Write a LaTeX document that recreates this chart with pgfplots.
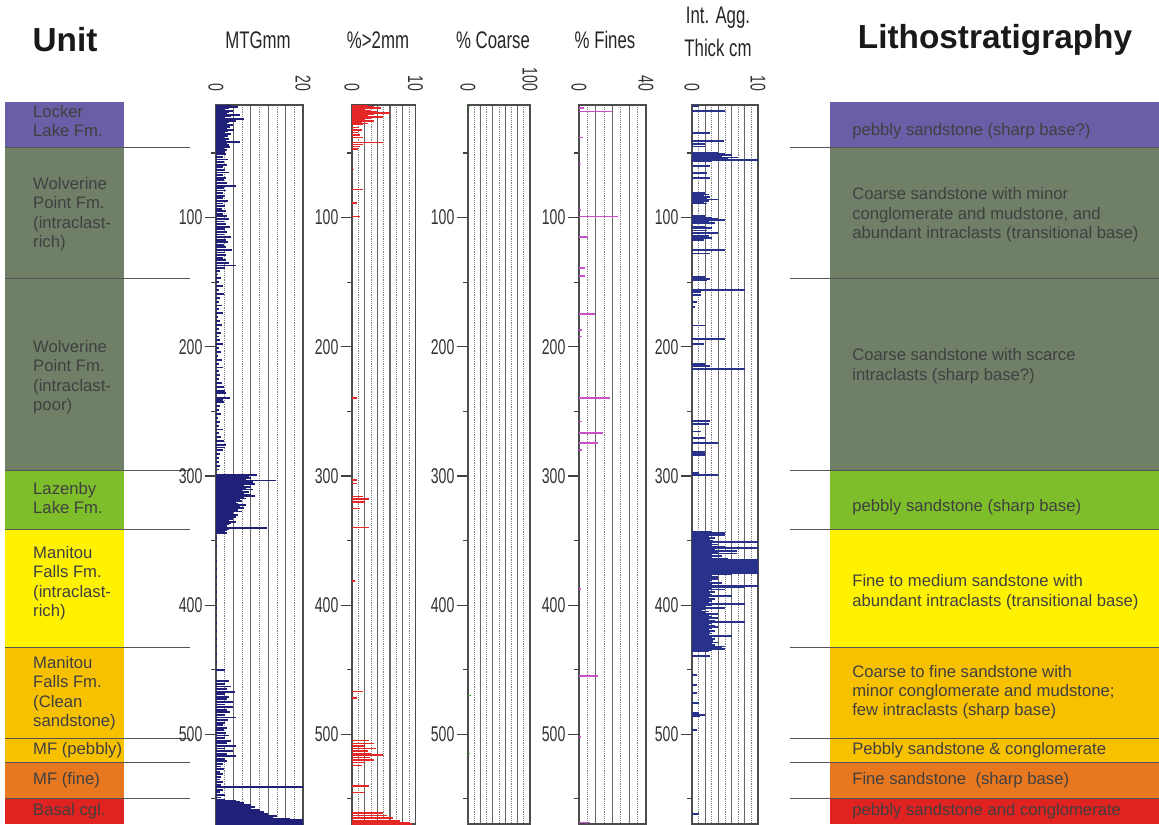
\documentclass[border=0pt]{standalone}
\usepackage{pgfplots}
\pgfplotsset{compat=1.18}
\usepackage{fontspec}
\setmainfont{Liberation Sans}
\newfontfamily\narrow[FakeStretch=0.66]{Liberation Sans}
\newfontfamily\titlenarrow[FakeStretch=0.7]{Liberation Sans}

\definecolor{lockercol}{RGB}{106,94,166}
\definecolor{wolvcol}{RGB}{112,128,104}
\definecolor{lazcol}{RGB}{125,190,42}
\definecolor{manrich}{RGB}{255,242,0}
\definecolor{manclean}{RGB}{247,193,0}
\definecolor{mffine}{RGB}{232,120,32}
\definecolor{basalcol}{RGB}{224,34,32}
\definecolor{sepcol}{RGB}{85,85,85}
\definecolor{mtgcol}{RGB}{32,32,120}
\definecolor{iacol}{RGB}{40,50,140}
\definecolor{gravcol}{RGB}{228,40,40}
\definecolor{coarsecol}{RGB}{60,170,60}
\definecolor{finescol}{RGB}{200,80,200}
\definecolor{boxtext}{RGB}{64,64,64}

\tikzset{
  sep/.style={draw=sepcol, line width=0.6pt},
  utext/.style={anchor=west, align=left, inner sep=0pt, text=boxtext,
    font=\fontsize{12.5}{14.5}\selectfont},
  ptitle/.style={font=\titlenarrow\fontsize{18}{18}\selectfont, text=black!85},
}

\begin{document}
\begin{tikzpicture}
\pgfplotsset{
  strip/.style={
    scale only axis, anchor=north west,
    height=539.25pt,
    y dir=reverse, ymin=12.78, ymax=569.5, xmin=0,
    ytick={100,200,300,400,500}, minor ytick={50,150,250,350,450,550},
    ytick pos=left, tick align=outside,
    major tick length=8.5pt, minor tick length=4pt,
    xticklabel pos=upper, xtick style={draw=none},
    ytick style={draw=black!75, line width=0.9pt},
    minor tick style={draw=black!75, line width=0.9pt},
    xmajorgrids, xminorgrids, minor x tick num=1,
    major grid style={draw=black!60, line width=0.9pt},
    minor grid style={draw=black!50, densely dotted, line width=0.6pt},
    axis line style={draw=black!70, line width=1pt},
    /pgf/number format/assume math mode=true,
    yticklabel style={font=\narrow\fontsize{16}{16}\selectfont, text=black!80, inner sep=1.5pt},
    xticklabel style={font=\narrow\fontsize{16}{16}\selectfont, text=black!80, rotate=-90, anchor=east, inner sep=1.5pt},
  },
  comb/.style={xcomb, line width=1.1pt},
  col/.style={
    scale only axis, anchor=north west, height=541.5pt,
    xmin=0, xmax=1, ymin=10.45, ymax=569.5, y dir=reverse,
    hide axis, clip=false,
  },
}

% titles
\begin{scope}[x=0.75pt, y=-0.75pt]
  \node[font=\bfseries\fontsize{25}{25}\selectfont, text=black!90] at (65,40) {Unit};
  \node[font=\bfseries\fontsize{25}{25}\selectfont, text=black!90] at (995,40) {Lithostratigraphy};
  \node[ptitle] at (258,40) {MTGmm};
  \node[ptitle] at (378,40) {\%>2mm};
  \node[ptitle] at (493,40) {\% Coarse};
  \node[ptitle] at (605,40) {\% Fines};
  \node[ptitle] at (718,18) {Int. Agg.};
  \node[ptitle] at (718,48) {Thick cm};
\end{scope}

% unit column
\begin{axis}[col, at={(3.75pt,-76.5pt)}, width=89.25pt]
  \fill[lockercol] (axis cs:0,10.45) rectangle (axis cs:1,45.3);
  \fill[wolvcol] (axis cs:0,45.3) rectangle (axis cs:1,295.4);
  \fill[lazcol] (axis cs:0,295.4) rectangle (axis cs:1,341.1);
  \fill[manrich] (axis cs:0,341.1) rectangle (axis cs:1,432.4);
  \fill[manclean] (axis cs:0,432.4) rectangle (axis cs:1,521.5);
  \fill[mffine] (axis cs:0,521.5) rectangle (axis cs:1,549.4);
  \fill[basalcol] (axis cs:0,549.4) rectangle (axis cs:1,569.5);
  \draw[sep] (axis cs:0,45.3) -- (axis cs:1.555,45.3);
  \draw[sep] (axis cs:0,146.7) -- (axis cs:1.555,146.7);
  \draw[sep] (axis cs:0,295.4) -- (axis cs:1.555,295.4);
  \draw[sep] (axis cs:0,341.1) -- (axis cs:1.555,341.1);
  \draw[sep] (axis cs:0,432.4) -- (axis cs:1.555,432.4);
  \draw[sep] (axis cs:0,502.9) -- (axis cs:1.555,502.9);
  \draw[sep] (axis cs:0,521.5) -- (axis cs:1.555,521.5);
  \draw[sep] (axis cs:0,549.4) -- (axis cs:1.555,549.4);
  \node[utext] at (axis cs:0.235,25.2) {Locker\\Lake Fm.};
  \node[utext] at (axis cs:0.235,97.2) {Wolverine\\Point Fm.\\(intraclast-\\rich)};
  \node[utext] at (axis cs:0.235,223.4) {Wolverine\\Point Fm.\\(intraclast-\\poor)};
  \node[utext] at (axis cs:0.235,317.1) {Lazenby\\Lake Fm.};
  \node[utext] at (axis cs:0.235,382.9) {Manitou\\Falls Fm.\\(intraclast-\\rich)};
  \node[utext] at (axis cs:0.235,468.1) {Manitou\\Falls Fm.\\(Clean\\sandstone)};
  \node[utext] at (axis cs:0.235,512.2) {MF (pebbly)};
  \node[utext] at (axis cs:0.235,535.4) {MF (fine)};
  \node[utext] at (axis cs:0.235,559.4) {Basal cgl.};
\end{axis}

% lithostratigraphy column
\begin{axis}[col, at={(622.5pt,-76.5pt)}, width=246.75pt]
  \fill[lockercol] (axis cs:0,10.45) rectangle (axis cs:1,45.3);
  \fill[wolvcol] (axis cs:0,45.3) rectangle (axis cs:1,295.4);
  \fill[lazcol] (axis cs:0,295.4) rectangle (axis cs:1,341.1);
  \fill[manrich] (axis cs:0,341.1) rectangle (axis cs:1,432.4);
  \fill[manclean] (axis cs:0,432.4) rectangle (axis cs:1,521.5);
  \fill[mffine] (axis cs:0,521.5) rectangle (axis cs:1,549.4);
  \fill[basalcol] (axis cs:0,549.4) rectangle (axis cs:1,569.5);
  \draw[sep] (axis cs:-0.1216,45.3) -- (axis cs:1,45.3);
  \draw[sep] (axis cs:-0.1216,146.7) -- (axis cs:1,146.7);
  \draw[sep] (axis cs:-0.1216,295.4) -- (axis cs:1,295.4);
  \draw[sep] (axis cs:-0.1216,341.1) -- (axis cs:1,341.1);
  \draw[sep] (axis cs:-0.1216,432.4) -- (axis cs:1,432.4);
  \draw[sep] (axis cs:-0.1216,502.9) -- (axis cs:1,502.9);
  \draw[sep] (axis cs:-0.1216,521.5) -- (axis cs:1,521.5);
  \draw[sep] (axis cs:-0.1216,549.4) -- (axis cs:1,549.4);
  \node[utext] at (axis cs:0.067,32.9) {pebbly sandstone (sharp base?)};
  \node[utext] at (axis cs:0.067,97.9) {Coarse sandstone with minor\\conglomerate and mudstone, and\\abundant intraclasts (transitional base)};
  \node[utext] at (axis cs:0.067,214.9) {Coarse sandstone with scarce\\intraclasts (sharp base?)};
  \node[utext] at (axis cs:0.067,324.1) {pebbly sandstone (sharp base)};
  \node[utext] at (axis cs:0.067,389.9) {Fine to medium sandstone with\\abundant intraclasts (transitional base)};
  \node[utext] at (axis cs:0.067,467.5) {Coarse to fine sandstone with\\minor conglomerate and mudstone;\\few intraclasts (sharp base)};
  \node[utext] at (axis cs:0.067,512.2) {Pebbly sandstone \& conglomerate};
  \node[utext] at (axis cs:0.067,535.4) {Fine sandstone\ \ (sharp base)};
  \node[utext] at (axis cs:0.067,559.4) {pebbly sandstone and conglomerate};
\end{axis}

% MTGmm
\begin{axis}[strip, at={(162pt,-78.75pt)}, width=65.25pt, xmax=20,
  xtick={0,4,8,12,16,20}, xticklabels={0,,,,,20}]
\addplot[comb, mtgcol, line width=1.4pt] coordinates {
(3.5,13.5)(5.0,14.5)(3.0,15.5)(2.0,16.5)(4.0,17.5)(3.0,18.5)(2.5,19.5)(5.5,20.5)(3.5,21.5)(2.0,22.5)(6.4,23.8)(4.5,25)(3.0,26)(2.5,27)(3.8,28)(2.0,29)(3.2,30)(2.5,31)(4.2,32)(2.8,33)(2.0,34)(3.5,35)(2.2,36)(2.8,37)(1.8,38)(3.0,39)(2.2,40)(5.6,41.5)(2.5,42.5)(3.0,43.5)(2.0,44.5)(3.2,45.5)(1.8,46.5)(2.5,47.5)(1.5,48.5)(2.0,49.5)
(2.2,51)(1.5,53)(2.8,55)(1.8,57)(2.5,59)(1.5,61)(2.0,63)(3.0,65)(1.6,67)(2.2,69)(1.8,71)(2.5,73)(4.5,75.8)(1.8,77)(2.4,79)(1.5,81)(2.0,83)(1.7,85)(2.8,87)(1.5,89)(2.0,91)(1.4,93)(2.2,95)(1.6,97)(2.5,99)(3.0,101)(1.8,103)(2.4,105)(3.2,107)(2.0,109)(2.6,111)(1.8,113)(3.5,115)(2.2,117)(2.8,119)(1.8,121)(2.4,123)(3.6,125)(2.0,127)(2.4,129)(1.6,131)(2.2,133)(3.0,135)(4.5,137)(2.0,139)
(1.0,141)(0.5,144)(1.2,147)(0.6,150)(1.5,153)(0.8,156)(1.8,159)(1.0,162)(0.6,165)(1.4,168)(0.8,171)(1.6,174)(0.5,177)(1.0,180)(1.4,183)(0.8,186)(1.2,189)(0.6,192)(1.0,195)(1.6,198)(0.7,201)(1.2,204)(0.5,207)(1.3,210)(0.8,213)(1.5,216)(0.6,219)(1.0,222)(0.8,225)(1.4,228)(1.8,231)(2.0,234)(2.2,236)(3.3,239.5)(1.5,241)(1.8,243)(1.0,246)(0.8,249)(1.2,252)(0.5,255)(1.0,258)(0.8,261)(1.5,264)(0.6,267)(1.2,270)(1.8,273)(2.2,276)(2.0,278)(1.5,280)(1.0,283)(0.8,286)(0.6,289)(1.0,292)(0.8,295)
(9.5,299.5)(7.5,300.5)(8.0,301.5)(7.0,302.5)(13.7,303.5)(8.5,304.5)(7.5,305.5)(9.0,306.5)(6.5,307.5)(8.0,308.5)(7.0,309.5)(8.5,310.5)(6.0,311.5)(7.5,312.5)(6.5,313.5)(8.0,314.5)(9.0,315.5)(6.5,316.5)(7.0,317.5)(5.5,318.5)(6.0,319.5)(4.5,320.5)(5.0,321.5)(7.0,322.5)(5.5,323.5)(6.5,324.5)(4.5,325.5)(5.0,326.5)(6.0,327.5)(4.0,328.5)(3.5,329.5)(5.0,330.5)(4.5,331.5)(3.5,332.5)(4.0,333.5)(3.0,334.5)(4.5,335.5)(3.5,336.5)(3.0,337.5)(2.5,338.5)(11.8,340)(3.0,341)(2.5,342)(2.0,343)(2.5,344)
(0.3,348)(0.3,354)(0.3,360)(0.3,366)(0.3,372)(0.3,378)(0.3,384)(0.3,390)(0.3,396)(0.3,402)(0.3,408)(0.3,414)(0.3,420)(0.3,426)(0.3,432)(0.3,438)(0.3,444)(2.1,450)
(3.0,459)(2.0,461)(3.5,463)(2.5,465)(4.3,467)(2.0,469)(3.0,471)(2.5,473)(3.8,475)(2.0,477)(4.0,479)(2.5,481)(3.2,483)(2.0,485)(4.5,487)(2.8,489)(2.0,491)(1.5,493)(2.5,495)(1.8,497)(2.2,499)(3.0,501)(2.0,503)(3.5,505)(2.5,507)(4.5,509)(2.0,511)(3.8,513)(2.5,515)(4.5,517)(2.0,519)(2.5,521)
(1.5,523)(1.2,525)(1.8,527)(1.0,529)(1.5,531)(1.2,533)(1.0,535)(1.6,537)(1.2,539)(22,541)(1.5,543)(1.0,545)(2.0,547)(1.2,549)(2.0,550.5)
(4.5,551.5)(5.5,552.5)(6.5,553.5)(8.0,554.5)(7.0,555.5)(9.0,556.5)(8.0,557.5)(10.0,558.5)(9.0,559.5)(11.0,560.5)(12.0,561.5)(11.0,562.5)(14,563.5)(13,564.5)(17,565.5)(20,566.5)(22,567.5)(22,568.5)(22,569.5)
};
\end{axis}

% % > 2 mm
\begin{axis}[strip, at={(264pt,-78.75pt)}, width=47.6pt, xmax=10,
  xtick={0,2,4,6,8,10}, xticklabels={0,,,,,10}]
\addplot[comb, gravcol] coordinates {
(2.5,13)(3.5,14)(4.5,15)(2.0,16)(3.0,17)(4.0,18)(6.0,19)(3.5,20)(2.5,21)(4.9,22)(3.0,23)(2.0,24)(3.5,25)(1.5,26)(2.5,27)(1.8,28)(1.0,30)(1.5,32)(0.9,34)(1.2,36)(1.7,38)(4.9,42)(1.7,43.5)(1.3,45)(0.9,47)(0.3,62.8)(1.7,78.4)(0.8,88.8)(1.3,99)(0.8,239.5)
(0.8,303)(0.8,306)(1.7,316)(2.7,318)(2.0,320)(1.2,325)(2.7,340)(0.5,381.3)(1.7,467)(0.8,472)
(2.7,505)(3.5,507)(2.0,509)(3.8,511)(2.5,513)(3.0,515)(4.9,516)(2.8,518)(3.5,520)(2.0,522)(1.5,524)(2.7,540)(2.0,545)
(4.9,561)(5.5,563)(6.5,565)(7.5,567)(9.1,568.5)(9.5,569.5)
};
\end{axis}

% % Coarse
\begin{axis}[strip, at={(351pt,-78.75pt)}, width=46.5pt, xmax=100,
  xtick={0,20,40,60,80,100}, xticklabels={0,,,,,100}]
\addplot[comb, coarsecol] coordinates {
(3,14)(2,20)(5,470)(3,515)(2,566)
};
\end{axis}

% % Fines
\begin{axis}[strip, at={(434.25pt,-78.75pt)}, width=50.25pt, xmax=40,
  xtick={0,10,20,30,40}, xticklabels={0,,,,40}]
\addplot[comb, finescol] coordinates {
(3,15)(19.5,18)(2.6,38)(1,58.9)(1,94)(23.5,99)(5.5,114.8)(3.5,139)(3.5,145)(9.6,174.5)(1.5,187)(2,192)(18.5,239.5)(2,257.7)(14.5,266.8)(11.5,274.6)(2,279.8)
(1,387.6)(11.5,455)(1,502)(6.6,568.5)
};
\end{axis}

% Int. Agg. Thick cm
\begin{axis}[strip, at={(519pt,-78.75pt)}, width=49.5pt, xmax=10,
  xtick={0,2,4,6,8,10}, xticklabels={0,,,,,10}]
\addplot[comb, iacol, line width=1.3pt] coordinates {
(1.0,13.5)(5.0,17.4)(2.8,34.2)(4.8,40.7)(2.0,43)(2.0,45)(4.0,49.5)(5.0,50.5)(6.0,51.5)(4.5,52.5)(7.0,53.5)(5.5,54.5)(10.5,55.5)(3.0,56.5)(2.8,60)(2.3,65.4)(2.8,69.3)(2.0,81)(2.5,82)(1.8,83)(2.8,84)(2.2,85)(4.0,86)(2.5,87)(1.8,88)(2.2,89)(2.0,99)(3.0,100)(4.0,101)(5.0,102)(2.5,103)(3.5,104)(2.0,107)(3.0,108)(2.2,110)(4.0,112)(2.5,114)(3.0,116)(1.8,117.4)(5.0,125.2)(2.8,127.8)(2.0,146)(2.8,147.5)(2.2,148.6)(8.1,156.3)(1.3,157.6)(1.3,160)(0.8,165.4)(0.5,169.3)(2.0,183.6)(5.0,194)(1.8,197.9)(2.0,213.5)(2.8,215)(8.1,217.4)(2.8,257.7)(2.5,260)(1.3,265.5)(2.0,270.7)(4.0,274.6)(2.0,281)(2.0,282)(2.0,283.6)(1.0,297.5)(4.0,299)
(3.0,343)(5.0,344)(3.0,345)(5.0,346)(2.5,347)(3.5,348)(2.8,349)(3.2,350)(10.5,351)(3.0,352)(4.0,353)(3.0,354)(5.0,355)(10.5,356)(3.5,357)(6.8,358)(4.0,359)(6.8,360)(3.0,361)(4.5,362)(3.0,363)(5.5,364)(10.5,365)(10.5,366)(10.5,367)(10.5,368)(10.5,369)(10.5,370)(10.5,371)(10.5,372)(10.5,373)(10.5,374)(10.5,375)(6.0,376)(3.0,377)(4.0,378)(2.5,379)(4.0,380)(3.0,381)(2.8,382)(4.5,383)(3.0,384)(10.5,385)(8.0,386)(3.0,387)(5.0,388)(2.5,389)(3.5,390)(2.8,391)(3.0,392)(6.0,393)(2.5,394)(3.5,395)(2.2,396)(3.0,397)(2.5,398)(8.1,399)(3.0,400)(2.0,401)(5.0,402)(2.0,403)(1.5,404)(2.5,405)(2.0,406)(4.0,407)(2.5,408)(3.0,409)(4.0,410)(2.5,411)(3.5,412)(8.1,413)(3.0,414)(2.5,415)(3.5,416)(4.0,417)(3.0,418)(2.5,419)(3.5,420)(2.8,421)(3.0,422)(2.5,423)(6.1,424)(3.0,425)(3.5,426)(2.8,427)(3.2,428)(4.0,429)(3.0,430)(3.5,431)(5.0,432)(4.5,433)(5.0,434)(3.0,435)(2.5,436)
(2.8,439.5)(0.8,453.9)(0.8,461.7)(0.8,468)(1.0,476)(1.0,483.5)(2.0,485)(1.2,486)(0.8,496.8)(1.0,561.7)
};
\end{axis}

\pgfresetboundingbox
\useasboundingbox (0,0) rectangle (869.25pt,-618pt);
\end{tikzpicture}
\end{document}
